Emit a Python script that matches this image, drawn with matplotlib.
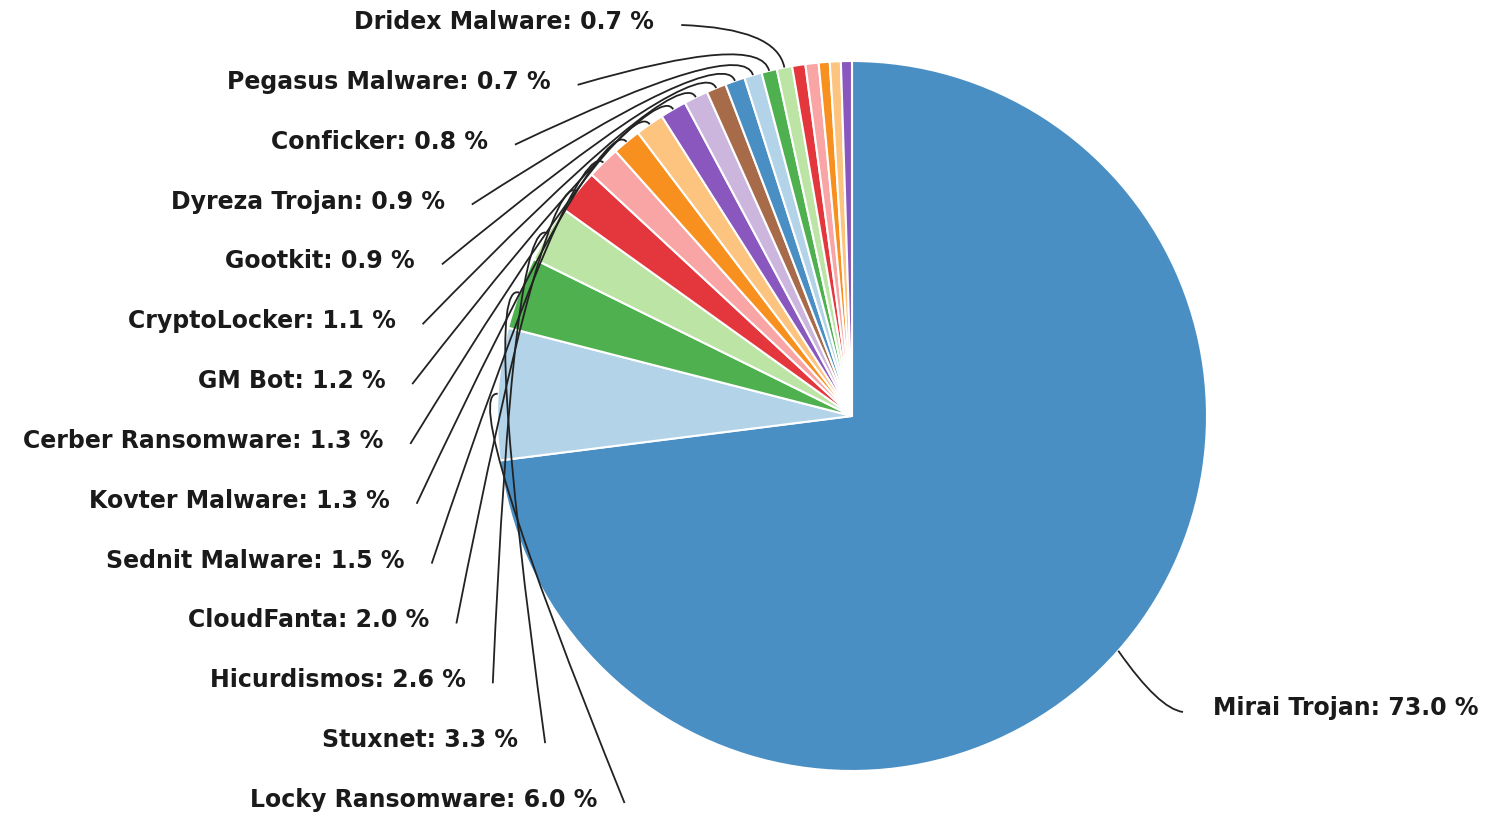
import matplotlib
matplotlib.use("Agg")
import matplotlib.pyplot as plt
import numpy as np
from matplotlib.path import Path
from matplotlib.patches import PathPatch

# Malware share (percent), clockwise from 12 o'clock
names = ['Mirai Trojan', 'Locky Ransomware', 'Stuxnet', 'Hicurdismos', 'CloudFanta',
         'Sednit Malware', 'Kovter Malware', 'Cerber Ransomware', 'GM Bot', 'CryptoLocker',
         'Gootkit', 'Dyreza Trojan', 'Conficker', 'Pegasus Malware', 'Dridex Malware',
         'Other 1', 'Other 2', 'Other 3', 'Other 4', 'Other 5']
shares = [73.0, 6.0, 3.3, 2.6, 2.0, 1.5, 1.3, 1.3, 1.2, 1.1,
          0.9, 0.9, 0.8, 0.7, 0.7, 0.6, 0.6, 0.5, 0.5, 0.5]
n_labeled = 15

palette = ['#4a8fc4', '#b3d3e8', '#4fb04f', '#bce4a4', '#e3363d', '#f9a5a6',
           '#f7901f', '#fdc47f', '#8957be', '#ccb6dd', '#a86b4a']
colors = [palette[i % len(palette)] for i in range(len(shares))]

W, H = 1499, 816
cx, cy = 852, 416          # pie centre in pixels (y down)
R = 355

fig = plt.figure(figsize=(W / 100, H / 100), dpi=100)
ax = fig.add_axes([0, 0, 1, 1])

wedges, _ = ax.pie(shares, colors=colors, startangle=90, counterclock=False,
                   center=(cx, H - cy), radius=R,
                   wedgeprops=dict(edgecolor='white', linewidth=1.5))
ax.set_xlim(0, W)
ax.set_ylim(0, H)
ax.set_aspect('equal')
ax.axis('off')


def connector(i, lx, ly, near_label=False):
    w = wedges[i]
    mid = np.deg2rad((w.theta1 + w.theta2) / 2)
    ux, uy = np.cos(mid), np.sin(mid)
    edge = (cx + R * ux, H - cy + R * uy)
    if near_label:
        ctrl = (lx - 24, ly + 3)
    else:
        ctrl = (cx + (R + 40) * ux, H - cy + (R + 40) * uy)
    path = Path([edge, ctrl, (lx, ly)], [Path.MOVETO, Path.CURVE3, Path.CURVE3])
    ax.add_patch(PathPatch(path, facecolor='none', edgecolor='#222222', lw=1.3))


font = dict(fontsize=17, fontweight='bold', color='#1a1a1a', family='DejaVu Sans')

# left-hand labels, Locky at the bottom up to Dridex at the top
left = list(range(1, n_labeled))
ys = np.linspace(800, 22, len(left))
xc_lab, yc_lab, r_lab = 818, 425, 435
for i, y in zip(left, ys):
    x_end = xc_lab - np.sqrt(r_lab ** 2 - (y - yc_lab) ** 2)
    ax.text(x_end, H - y, f'{names[i]}: {shares[i]:.1f} %', ha='right', va='center', **font)
    connector(i, x_end + 27, H - y - 3)

# Mirai on the right
mx, my = 1213, 708
ax.text(mx, H - my, f'{names[0]}: {shares[0]:.1f} %', ha='left', va='center', **font)
connector(0, mx - 30, H - my - 4, near_label=True)

fig.savefig('out.png', dpi=100, facecolor='white')
